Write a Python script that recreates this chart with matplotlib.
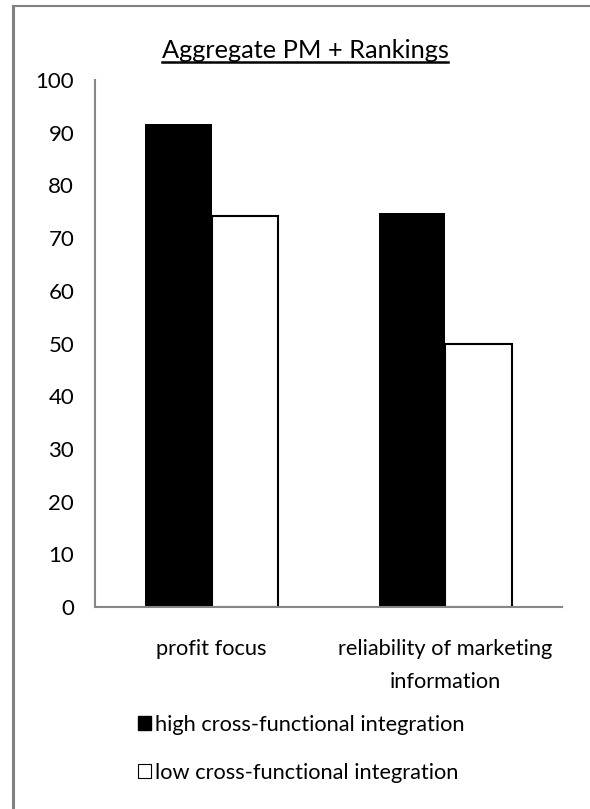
import matplotlib
matplotlib.use("Agg")
import matplotlib.pyplot as plt
from matplotlib.lines import Line2D
from matplotlib.patches import Patch
import numpy as np

plt.rcParams["font.family"] = ["Lato", "DejaVu Sans"]

categories = ["profit focus", "reliability of marketing\ninformation"]
high_vals = [91.6, 74.7]
low_vals = [74.1, 50.0]
series_names = ["high cross-functional integration", "low cross-functional integration"]
y_ticks = [0, 10, 20, 30, 40, 50, 60, 70, 80, 90, 100]


def main():
    fig = plt.figure(figsize=(5.9, 8.09), dpi=100)
    ax = fig.add_axes([95 / 590, 1 - 607 / 809, 467 / 590, 527 / 809])

    x = np.arange(len(categories))
    width = 0.285
    ax.bar(x - width / 2, high_vals, width, color="black", edgecolor="black", linewidth=0)
    ax.bar(x + width / 2, low_vals, width, color="white", edgecolor="black", linewidth=1.5)

    ax.set_xlim(-0.5, 1.5)
    ax.set_ylim(0, 100)
    ax.set_yticks(y_ticks)
    ax.set_xticks(x)
    ax.set_xticklabels(categories, fontsize=15.7, linespacing=1.8)
    ax.tick_params(axis="y", length=0, pad=15, labelsize=16)
    ax.tick_params(axis="x", length=0, pad=23)

    for side in ["top", "right"]:
        ax.spines[side].set_visible(False)
    for side in ["left", "bottom"]:
        ax.spines[side].set_color("#868686")
        ax.spines[side].set_linewidth(1.5)

    # title with underline
    title = fig.text(305 / 590, 1 - 50 / 809, "Aggregate PM + Rankings", ha="center", va="center", fontsize=18.3)
    fig.canvas.draw()
    bb = title.get_window_extent().transformed(fig.transFigure.inverted())
    fig.add_artist(Line2D([bb.x0, bb.x1], [bb.y0 - 0.001, bb.y0 - 0.001], color="black", linewidth=1.8,
                          transform=fig.transFigure))

    handles = [Patch(facecolor="black", edgecolor="black"),
               Patch(facecolor="white", edgecolor="black", linewidth=0.8)]
    fig.legend(handles, series_names, loc="upper left", bbox_to_anchor=(129 / 590, 1 - 706 / 809),
               frameon=False, fontsize=15.7, handlelength=0.6, handleheight=0.6, handletextpad=0.2,
               labelspacing=1.3, borderaxespad=0)

    # frame border on left and top
    fig.add_artist(Line2D([13 / 590, 13 / 590], [0, 1 - 6 / 809], color="#808080", linewidth=2.2,
                          transform=fig.transFigure))
    fig.add_artist(Line2D([13 / 590, 1], [1 - 6 / 809, 1 - 6 / 809], color="#808080", linewidth=1.5,
                          transform=fig.transFigure))

    fig.savefig("out.png", dpi=100)


if __name__ == "__main__":
    main()
